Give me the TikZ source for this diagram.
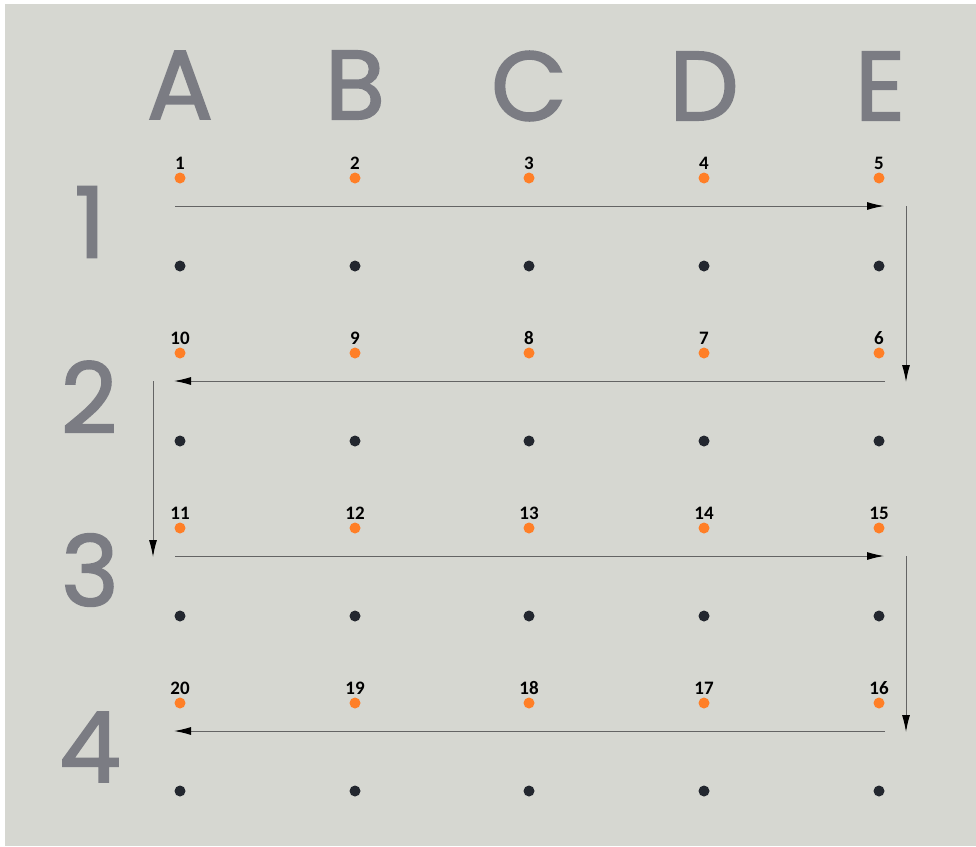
\documentclass[tikz,border=0pt]{standalone}
\usepackage{fontspec}
\usepackage{tikz}
\usetikzlibrary{arrows.meta}

\newfontfamily\gridfont{Poppins}[FakeBold=1.8]
\newfontfamily\numfont{Carlito}

\definecolor{panel}{RGB}{214,215,209}
\definecolor{glyphgray}{RGB}{123,124,131}
\definecolor{dotorange}{RGB}{255,127,39}
\definecolor{dotdark}{RGB}{35,39,47}
\definecolor{linegray}{RGB}{100,100,100}

\tikzset{
  odot/.style={circle, fill=dotorange, inner sep=0pt, minimum size=11pt},
  kdot/.style={circle, fill=dotdark, inner sep=0pt, minimum size=11pt},
  num/.style={font=\numfont\bfseries\fontsize{19}{19}\selectfont, inner sep=0pt},
  big/.style={font=\gridfont\fontsize{98}{98}\selectfont, text=glyphgray, inner sep=0pt},
  run/.style={draw=linegray, line width=1pt, -{Latex[length=17pt,width=8pt,color=black]}}
}

\begin{document}
\begin{tikzpicture}[x=1pt, y=-1pt]

\useasboundingbox [fill=white] (0,0) rectangle (976,846);
\fill [panel] (5,4) rectangle (976,846);

%%%%% Column and row letters
\node [big] (colA) at (180,85) {A}; \node [big] (colB) at (355,85) {B}; \node [big] (colC) at (529,86) {C}; \node [big] (colD) at (704,86) {D}; \node [big] (colE) at (880,86) {E};
\node [big] (row1) at (90,222) {1}; \node [big] (row2) at (89,397) {2}; \node [big] (row3) at (90,570) {3}; \node [big] (row4) at (90,747) {4};

%%%%% Row 1
\node [odot] (o1) at (180,178) {}; \node [odot] (o2) at (355,178) {}; \node [odot] (o3) at (529,178) {}; \node [odot] (o4) at (704,178) {}; \node [odot] (o5) at (879,178) {};
\node [num] (n1) at (180,163) {1}; \node [num] (n2) at (355,163) {2}; \node [num] (n3) at (529,163) {3}; \node [num] (n4) at (704,163) {4}; \node [num] (n5) at (879,163) {5};
\node [kdot] (kA1) at (180,266) {}; \node [kdot] (kB1) at (355,266) {}; \node [kdot] (kC1) at (529,266) {}; \node [kdot] (kD1) at (704,266) {}; \node [kdot] (kE1) at (879,266) {};

%%%%% Row 2
\node [odot] (o10) at (180,353) {}; \node [odot] (o9) at (355,353) {}; \node [odot] (o8) at (529,353) {}; \node [odot] (o7) at (704,353) {}; \node [odot] (o6) at (879,353) {};
\node [num] (n10) at (180,338) {10}; \node [num] (n9) at (355,338) {9}; \node [num] (n8) at (529,338) {8}; \node [num] (n7) at (704,338) {7}; \node [num] (n6) at (879,338) {6};
\node [kdot] (kA2) at (180,441) {}; \node [kdot] (kB2) at (355,441) {}; \node [kdot] (kC2) at (529,441) {}; \node [kdot] (kD2) at (704,441) {}; \node [kdot] (kE2) at (879,441) {};

%%%%% Row 3
\node [odot] (o11) at (180,528) {}; \node [odot] (o12) at (355,528) {}; \node [odot] (o13) at (529,528) {}; \node [odot] (o14) at (704,528) {}; \node [odot] (o15) at (879,528) {};
\node [num] (n11) at (180,513) {11}; \node [num] (n12) at (355,513) {12}; \node [num] (n13) at (529,513) {13}; \node [num] (n14) at (704,513) {14}; \node [num] (n15) at (879,513) {15};
\node [kdot] (kA3) at (180,616) {}; \node [kdot] (kB3) at (355,616) {}; \node [kdot] (kC3) at (529,616) {}; \node [kdot] (kD3) at (704,616) {}; \node [kdot] (kE3) at (879,616) {};

%%%%% Row 4
\node [odot] (o20) at (180,703) {}; \node [odot] (o19) at (355,703) {}; \node [odot] (o18) at (529,703) {}; \node [odot] (o17) at (704,703) {}; \node [odot] (o16) at (879,703) {};
\node [num] (n20) at (180,688) {20}; \node [num] (n19) at (355,688) {19}; \node [num] (n18) at (529,688) {18}; \node [num] (n17) at (704,688) {17}; \node [num] (n16) at (879,688) {16};
\node [kdot] (kA4) at (180,791) {}; \node [kdot] (kB4) at (355,791) {}; \node [kdot] (kC4) at (529,791) {}; \node [kdot] (kD4) at (704,791) {}; \node [kdot] (kE4) at (879,791) {};

%%%%% Path ends
\coordinate (w1) at (175,206); \coordinate (e1) at (884,206);
\coordinate (w2) at (174,381); \coordinate (e2) at (885,381);
\coordinate (w3) at (175,556); \coordinate (e3) at (884,556);
\coordinate (w4) at (174,731); \coordinate (e4) at (885,731);
\coordinate (d1s) at (906,206); \coordinate (d1e) at (906,382);
\coordinate (d2s) at (153,381); \coordinate (d2e) at (153,557);
\coordinate (d3s) at (906,556); \coordinate (d3e) at (906,732);

%%%%% Snake path
\draw [run] (w1)--(e1); \draw [run] (d1s)--(d1e);
\draw [run] (e2)--(w2); \draw [run] (d2s)--(d2e);
\draw [run] (w3)--(e3); \draw [run] (d3s)--(d3e);
\draw [run] (e4)--(w4);

\end{tikzpicture}
\end{document}
